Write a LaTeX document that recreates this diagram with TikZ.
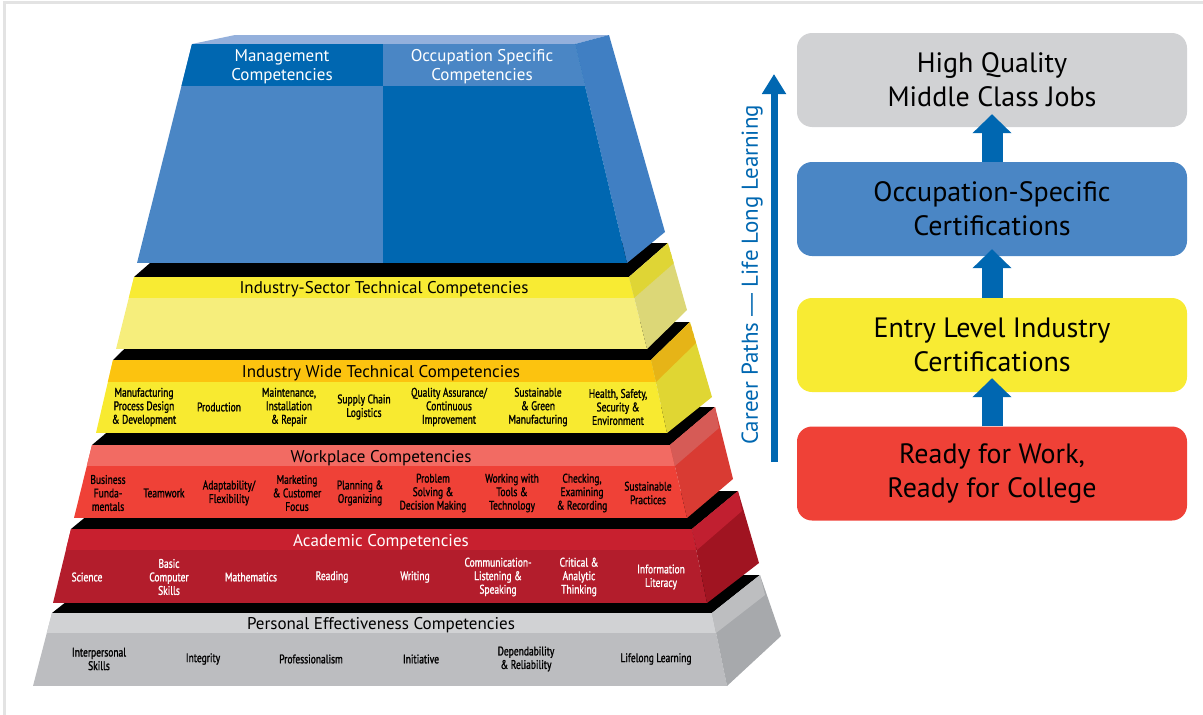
\documentclass[tikz,border=0pt]{standalone}
\usepackage{fontspec}
\setmainfont{PT Sans}
\newfontfamily\condfont{PT Sans}[FakeStretch=0.76, FakeBold=1.3]
\newfontfamily\dashfont{Liberation Sans}
\usetikzlibrary{arrows.meta, positioning}
\definecolor{bludark}{HTML}{0067B1}
\definecolor{blulight}{HTML}{4A86C5}
\definecolor{blutop}{HTML}{94B0DC}
\definecolor{bluside}{HTML}{407FC3}
\definecolor{secband}{HTML}{F8EB33}
\definecolor{secbody}{HTML}{F6EE7C}
\definecolor{secsidetop}{HTML}{DFD535}
\definecolor{secside}{HTML}{DCD777}
\definecolor{wideband}{HTML}{FCC30F}
\definecolor{widebody}{HTML}{F8EA30}
\definecolor{widesidetop}{HTML}{E6B417}
\definecolor{wideside}{HTML}{E0D633}
\definecolor{workband}{HTML}{F26B63}
\definecolor{workbody}{HTML}{EF4137}
\definecolor{worksidetop}{HTML}{D65B56}
\definecolor{workside}{HTML}{D93B33}
\definecolor{acadband}{HTML}{C8202F}
\definecolor{acadbody}{HTML}{B31D2C}
\definecolor{acadsidetop}{HTML}{C11F30}
\definecolor{acadside}{HTML}{A01421}
\definecolor{persband}{HTML}{D1D2D4}
\definecolor{persbody}{HTML}{BCBDC0}
\definecolor{perssidetop}{HTML}{BDBEC0}
\definecolor{persside}{HTML}{A7A9AC}
\definecolor{framegray}{HTML}{E3E3E3}
\tikzset{
  >={Latex},
  tiertext/.style={font=\fontsize{17}{19}\selectfont, inner sep=0pt, align=center},
  itemtext/.style={font=\condfont\fontsize{12.5}{13.5}\selectfont, inner sep=0pt, align=center},
  certbox/.style={rounded corners=15pt, minimum width=390pt, minimum height=94pt,
    inner sep=0pt, align=center, font=\fontsize{28}{34}\selectfont},
  certarrow/.style={draw=bludark, line width=21pt, -{Triangle[width=38pt, length=19pt]}}
}

\begin{document}
\begin{tikzpicture}[x=1pt, y=-1pt]
    \useasboundingbox (0,0) rectangle (1203,715);
    % frame
    \draw[framegray, line width=3pt] (4,715) -- (4,2) -- (1203,2);
    % pyramid
    % 5. personal effectiveness
    \begin{scope}
        \fill[black] (52,613) -- (712,613) -- (760,575) -- (100,575) -- cycle;
        \begin{scope}
            \clip (52,613) -- (712,613) -- (727,686) -- (33,686) -- cycle;
            \fill[persbody] (0,613) rectangle (800,686);
            \fill[persband] (0,613) rectangle (800,633);
        \end{scope}
        \begin{scope}
            \clip (712,613) -- (760,575) -- (781,636) -- (727,686) -- cycle;
            \fill[persside] (700,560) rectangle (800,700);
            \fill[perssidetop] (712,613) -- (760,575) -- (765,595) -- (716,633) -- cycle;
        \end{scope}
        \node[tiertext] (personal) at (381,625) {Personal Effectiveness Competencies};
        \foreach \x/\t [count=\i] in {99/{Interpersonal\\Skills}, 203/Integrity,
            311/Professionalism, 421/Initiative, 526/{Dependability\\\& Reliability},
            656/{Lifelong Learning}}{
            \node[itemtext] (pers\i) at (\x,659) {\t};
        }
    \end{scope}
    % 4. academic
    \begin{scope}
        \fill[black] (71,529) -- (692,529) -- (738,491) -- (117,491) -- cycle;
        \begin{scope}
            \clip (71,529) -- (692,529) -- (707,603) -- (53,603) -- cycle;
            \fill[acadbody] (0,529) rectangle (800,603);
            \fill[acadband] (0,529) rectangle (800,550);
        \end{scope}
        \begin{scope}
            \clip (692,529) -- (738,491) -- (759,563) -- (707,603) -- cycle;
            \fill[acadside] (680,480) rectangle (780,610);
            \fill[acadsidetop] (692,529) -- (738,491) -- (742,511) -- (697,550) -- cycle;
        \end{scope}
        \node[tiertext, text=white] (academic) at (381,542) {Academic Competencies};
        \foreach \x/\t [count=\i] in {87/Science, 169/{Basic\\Computer\\Skills},
            251/Mathematics, 332/Reading, 415/Writing,
            498/{Communication-\\Listening \&\\Speaking}, 579/{Critical \&\\Analytic\\Thinking},
            661/{Information\\Literacy}}{
            \node[itemtext, text=white] (acad\i) at (\x,577) {\t};
        }
    \end{scope}
    % 3. workplace
    \begin{scope}
        \fill[black] (92,445) -- (670,445) -- (715,407) -- (137,407) -- cycle;
        \begin{scope}
            \clip (92,445) -- (670,445) -- (687,518) -- (74,518) -- cycle;
            \fill[workbody] (0,445) rectangle (800,518);
            \fill[workband] (0,445) rectangle (800,466);
        \end{scope}
        \begin{scope}
            \clip (670,445) -- (715,407) -- (733,479) -- (687,518) -- cycle;
            \fill[workside] (660,400) rectangle (760,530);
            \fill[worksidetop] (670,445) -- (715,407) -- (719,428) -- (675,466) -- cycle;
        \end{scope}
        \node[tiertext] (workplace) at (381,458) {Workplace Competencies};
        \foreach \x/\t [count=\i] in {108/{Business\\Funda-\\mentals}, 164/Teamwork,
            229/{Adaptability/\\Flexibility}, 297/{Marketing\\\& Customer\\Focus},
            360/{Planning \&\\Organizing}, 433/{Problem\\Solving \&\\Decision Making},
            512/{Working with\\Tools \&\\Technology}, 582/{Checking,\\Examining\\\& Recording},
            648/{Sustainable\\Practices}}{
            \node[itemtext] (work\i) at (\x,493) {\t};
        }
    \end{scope}
    % 2. industry wide
    \begin{scope}
        \fill[black] (113,360) -- (651,360) -- (690,322) -- (152,322) -- cycle;
        \begin{scope}
            \clip (113,360) -- (651,360) -- (667,433) -- (96,433) -- cycle;
            \fill[widebody] (0,360) rectangle (800,433);
            \fill[wideband] (0,360) rectangle (800,382);
        \end{scope}
        \begin{scope}
            \clip (651,360) -- (690,322) -- (712,397) -- (667,433) -- cycle;
            \fill[wideside] (640,310) rectangle (730,440);
            \fill[widesidetop] (651,360) -- (690,322) -- (696,343) -- (656,382) -- cycle;
        \end{scope}
        \node[tiertext] (wide) at (381,373) {Industry Wide Technical Competencies};
        \foreach \x/\t [count=\i] in {144/{Manufacturing\\Process Design\\\& Development},
            219/Production, 289/{Maintenance,\\Installation\\\& Repair},
            364/{Supply Chain\\Logistics}, 449/{Quality Assurance/\\Continuous\\Improvement},
            538/{Sustainable\\\& Green\\Manufacturing}, 618/{Health, Safety,\\Security \&\\Environment}}{
            \node[itemtext] (wide\i) at (\x,407) {\t};
        }
    \end{scope}
    % 1. industry sector
    \begin{scope}
        \fill[black] (134,277) -- (629,277) -- (668,243) -- (173,243) -- cycle;
        \begin{scope}
            \clip (134,277) -- (629,277) -- (647,349) -- (116,349) -- cycle;
            \fill[secbody] (0,277) rectangle (800,349);
            \fill[secband] (0,277) rectangle (800,298);
        \end{scope}
        \begin{scope}
            \clip (629,277) -- (668,243) -- (687,310) -- (647,349) -- cycle;
            \fill[secside] (620,230) rectangle (700,360);
            \fill[secsidetop] (629,277) -- (668,243) -- (674,263) -- (634,298) -- cycle;
        \end{scope}
        \node[tiertext] (sector) at (384,289) {Industry-Sector Technical Competencies};
    \end{scope}
    % top block
    \begin{scope}
        \fill[blutop] (192,44) -- (235,35) -- (609,35) -- (575,44) -- cycle;
        \fill[bluside] (575,44) -- (609,35) -- (665,232) -- (627,263) -- cycle;
        \begin{scope}
            \clip (192,44) -- (575,44) -- (627,263) -- (137,263) -- cycle;
            \fill[blulight] (100,44) rectangle (383,263);
            \fill[bludark] (383,44) rectangle (700,263);
            \fill[bludark] (100,44) rectangle (383,86);
            \fill[blulight] (383,44) rectangle (700,86);
        \end{scope}
        \node[tiertext, text=white] (management) at (282,67) {Management\\Competencies};
        \node[tiertext, text=white] (occupation) at (482,67) {Occupation Specific\\Competencies};
    \end{scope}
    % career paths
    \coordinate (pathsbot) at (774,462);
    \coordinate (pathstop) at (774,74);
    \draw[draw=bludark, line width=7pt, -{Triangle[width=23pt, length=20pt]}] (pathsbot) -- (pathstop);
    \node[rotate=90, text=bludark, font=\fontsize{23}{27}\selectfont, inner sep=0pt] (paths)
        at (752,275) {Career Paths {\dashfont —} Life Long Learning};
    % certifications
    \node[certbox, fill=persband] (jobs) at (992,80) {High Quality\\Middle Class Jobs};
    \node[certbox, fill=blulight] (occcert) at (992,209) {Occupation-Specific\\Certifications};
    \node[certbox, fill=secband] (entry) at (992,345) {Entry Level Industry\\Certifications};
    \node[certbox, fill=workbody] (ready) at (992,473.5) {Ready for Work,\\Ready for College};
    \draw[certarrow] (ready.north) -- ([yshift=14pt]entry.south);
    \draw[certarrow] (entry.north) -- ([yshift=7pt]occcert.south);
    \draw[certarrow] (occcert.north) -- ([yshift=13pt]jobs.south);
\end{tikzpicture}
\end{document}
